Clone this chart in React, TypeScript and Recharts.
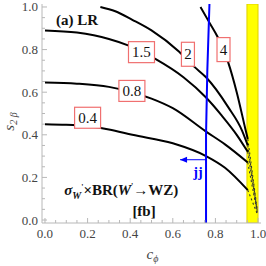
import React from 'react';
import { LineChart, Line, XAxis, YAxis, ReferenceArea, Scatter } from 'recharts';

// contour curves (x = c_phi, y = s_2beta)
const c04x = [0, 0.1, 0.2, 0.3, 0.41, 0.6, 0.756, 0.845, 0.952];
const c04y = [0.45, 0.447, 0.44, 0.425, 0.4, 0.36, 0.3, 0.245, 0.14];
const c08x = [0, 0.15, 0.3, 0.408, 0.5, 0.6, 0.756, 0.845, 0.952];
const c08y = [0.645, 0.64, 0.625, 0.6, 0.57, 0.525, 0.415, 0.355, 0.27];
const c15x = [0, 0.15, 0.3, 0.39, 0.52, 0.65, 0.756, 0.83, 0.9, 0.952];
const c15y = [0.89, 0.88, 0.85, 0.82, 0.755, 0.67, 0.575, 0.49, 0.4, 0.32];
const c2x = [0.26, 0.33, 0.41, 0.5, 0.63, 0.7, 0.756, 0.86, 0.925, 0.952];
const c2y = [1.0, 0.98, 0.94, 0.89, 0.79, 0.72, 0.67, 0.53, 0.42, 0.35];
const c4x = [0.73, 0.77, 0.81, 0.86, 0.9, 0.94, 0.952];
const c4y = [1.0, 0.93, 0.86, 0.74, 0.6, 0.43, 0.38];

// dashed tails inside the yellow band
const tailEndX = 0.996;
const tailEndY = [0.03, 0.035, 0.04, 0.045, 0.05];

// contour labels
const labelText = ['0.4', '0.8', '1.5', '2', '4'];
const labelX = [0.2, 0.408, 0.453, 0.671, 0.838];
const labelY = [0.48, 0.606, 0.788, 0.778, 0.8];

// jj limit (blue)
const jjLineX = [0.756, 0.756, 0.762, 0.772];
const jjLineY = [-0.014, 0.4, 0.7, 1.014];
const jjArrowX = 0.634;
const jjArrowY = 0.283;
// excluded band (yellow)
const bandX1 = 0.948;
const bandX2 = 1.0;

const majorTicks = [0, 0.2, 0.4, 0.6, 0.8, 1.0];
const allTicks = Array.from({ length: 21 }, (_, i) => Math.round(i * 5) / 100);

const FONT = '"Liberation Serif", "DejaVu Serif", serif';
const FRAME = '#b8b8b8';

const toPts = (xs: number[], ys: number[]) => xs.map((x, i) => ({ x, y: ys[i] }));
const curves = [
  toPts(c04x, c04y),
  toPts(c08x, c08y),
  toPts(c15x, c15y),
  toPts(c2x, c2y),
  toPts(c4x, c4y),
];
const tails = curves.map((c, i) => [c[c.length - 1], { x: tailEndX, y: tailEndY[i] }]);
const labels = labelText.map((t, i) => ({ x: labelX[i], y: labelY[i], t }));
const jjLine = toPts(jjLineX, jjLineY);
const jjArrow = [{ x: jjArrowX, y: jjArrowY }, { x: jjLineX[0], y: jjArrowY }];
const annotations = [
  { x: 0.15, y: 0.94, k: 'title' },
  { x: 0.358, y: 0.14, k: 'sigma' },
  { x: 0.465, y: 0.04, k: 'fb' },
  { x: 0.718, y: 0.226, k: 'jj' },
];

const isMajor = (v: number) => majorTicks.some((m) => Math.abs(m - v) < 1e-6);

const BottomTick = (p: any) => {
  const { x, y, payload } = p;
  const maj = isMajor(payload.value);
  return (
    <g>
      <line x1={x} x2={x} y1={y} y2={y - (maj ? 5 : 3)} stroke={FRAME} />
      {maj && (
        <text x={x} y={y + 15} textAnchor="middle" fontFamily={FONT} fontSize={13} fill="#444">
          {payload.value.toFixed(1)}
        </text>
      )}
    </g>
  );
};
const TopTick = (p: any) => {
  const { x, y, payload } = p;
  const maj = isMajor(payload.value);
  return <line x1={x} x2={x} y1={y} y2={y + (maj ? 5 : 3)} stroke={FRAME} />;
};
const LeftTick = (p: any) => {
  const { x, y, payload } = p;
  const maj = isMajor(payload.value);
  return (
    <g>
      <line x1={x} x2={x + (maj ? 5 : 3)} y1={y} y2={y} stroke={FRAME} />
      {maj && (
        <text x={x - 4} y={y + 4.5} textAnchor="end" fontFamily={FONT} fontSize={13} fill="#444">
          {payload.value.toFixed(1)}
        </text>
      )}
    </g>
  );
};
const RightTick = (p: any) => {
  const { x, y, payload } = p;
  const maj = isMajor(payload.value);
  return <line x1={x} x2={x - (maj ? 5 : 3)} y1={y} y2={y} stroke={FRAME} />;
};

const LabelBox = (p: any) => {
  const { cx, cy, payload } = p;
  const t: string = payload.t;
  const w = t.length === 1 ? 13 : 26;
  const h = t.length === 1 ? 24 : 21;
  return (
    <g>
      <rect x={cx - w / 2} y={cy - h / 2} width={w} height={h} fill="#fff" stroke="#f07070" strokeWidth={1.2} />
      <text x={cx} y={cy + 5} textAnchor="middle" fontFamily={FONT} fontSize={15} fill="#111">
        {t}
      </text>
    </g>
  );
};

const Annot = (p: any) => {
  const { cx, cy, payload } = p;
  if (payload.k === 'title')
    return (
      <text x={cx} y={cy + 5} textAnchor="middle" fontFamily={FONT} fontSize={15} fontWeight="bold" fill="#111">
        (a) LR
      </text>
    );
  if (payload.k === 'sigma')
    return (
      <text x={cx} y={cy + 5} textAnchor="middle" fontFamily={FONT} fontSize={15} fontWeight="bold" fill="#111">
        <tspan fontStyle="italic">σ</tspan>
        <tspan fontStyle="italic" fontSize={10} dy={4}>W</tspan>
        <tspan fontSize={8} dy={-9}>'</tspan>
        <tspan dy={5}>×BR(</tspan>
        <tspan fontStyle="italic">W</tspan>
        <tspan fontSize={8} dy={-6}>'</tspan>
        <tspan dy={6}>→WZ)</tspan>
      </text>
    );
  if (payload.k === 'fb')
    return (
      <text x={cx} y={cy + 5} textAnchor="middle" fontFamily={FONT} fontSize={15} fontWeight="bold" fill="#111">
        [fb]
      </text>
    );
  return (
    <text x={cx} y={cy + 5} textAnchor="middle" fontFamily={FONT} fontSize={14} fontWeight="bold" fill="#0000ff">
      jj
    </text>
  );
};

const ArrowDot = (p: any) => {
  const { cx, cy, index } = p;
  if (index !== 0) return <g key={`a${index}`} />;
  return <path key="ah" d={`M${cx},${cy} L${cx + 7},${cy - 3} L${cx + 7},${cy + 3} Z`} fill="#0000ff" />;
};

const XLabel = (p: any) => {
  const { viewBox } = p;
  const cx = viewBox.x + viewBox.width / 2 + 1;
  return (
    <text x={cx} y={viewBox.y + 36} textAnchor="middle" fontFamily={FONT} fontSize={15} fontStyle="italic" fill="#444">
      c<tspan fontSize={10} dy={3}>ϕ</tspan>
    </text>
  );
};
const YLabel = (p: any) => {
  const { viewBox } = p;
  const cy = viewBox.y + viewBox.height / 2 + 8;
  const x = 14;
  return (
    <text x={x} y={cy} transform={`rotate(-90 ${x} ${cy})`} textAnchor="middle" fontFamily={FONT} fontSize={15} fontStyle="italic" fill="#444">
      s<tspan fontSize={10} dy={3}>2</tspan>
      <tspan fontSize={10}> β</tspan>
    </text>
  );
};

export default function App() {
  const dom: [number, number] = [-0.014, 1.014];
  return (
    <div style={{ position: 'absolute', left: 0, top: 0, background: '#fff' }}>
      <LineChart width={266} height={266} margin={{ top: 4, right: 5, bottom: 13, left: 0 }}>
        <XAxis
          type="number"
          dataKey="x"
          domain={dom}
          ticks={allTicks}
          interval={0}
          height={30}
          tickSize={0}
          tickMargin={0}
          tick={<BottomTick />}
          axisLine={{ stroke: FRAME }}
          allowDataOverflow
          label={<XLabel />}
        />
        <XAxis
          xAxisId="t"
          orientation="top"
          type="number"
          domain={dom}
          ticks={allTicks}
          interval={0}
          height={0}
          tickSize={0}
          tick={<TopTick />}
          axisLine={{ stroke: FRAME }}
          allowDataOverflow
        />
        <YAxis
          type="number"
          dataKey="y"
          domain={dom}
          ticks={allTicks}
          interval={0}
          width={42}
          tickSize={0}
          tickMargin={0}
          tick={<LeftTick />}
          axisLine={{ stroke: FRAME }}
          allowDataOverflow
          label={<YLabel />}
        />
        <YAxis
          yAxisId="r"
          orientation="right"
          type="number"
          domain={dom}
          ticks={allTicks}
          interval={0}
          width={0}
          tickSize={0}
          tick={<RightTick />}
          axisLine={{ stroke: FRAME }}
          allowDataOverflow
        />
        <ReferenceArea x1={bandX1} x2={bandX2} y1={dom[0]} y2={dom[1]} fill="#ffff00" fillOpacity={1} stroke="#e0d000" strokeWidth={1} ifOverflow="hidden" />
        {tails.map((d, i) => (
          <Line key={`t${i}`} data={d} dataKey="y" type="linear" stroke="#333" strokeWidth={1.1} strokeDasharray="2 2.5" dot={false} isAnimationActive={false} />
        ))}
        {curves.map((d, i) => (
          <Line key={`c${i}`} data={d} dataKey="y" type="monotone" stroke="#000" strokeWidth={2} dot={false} isAnimationActive={false} />
        ))}
        <Line data={jjLine} dataKey="y" type="linear" stroke="#0000ff" strokeWidth={2} dot={false} isAnimationActive={false} />
        <Line data={jjArrow} dataKey="y" type="linear" stroke="#0000ff" strokeWidth={1} dot={<ArrowDot />} isAnimationActive={false} />
        <Scatter data={labels} dataKey="y" shape={<LabelBox />} isAnimationActive={false} />
        <Scatter data={annotations} dataKey="y" shape={<Annot />} isAnimationActive={false} />
      </LineChart>
    </div>
  );
}
